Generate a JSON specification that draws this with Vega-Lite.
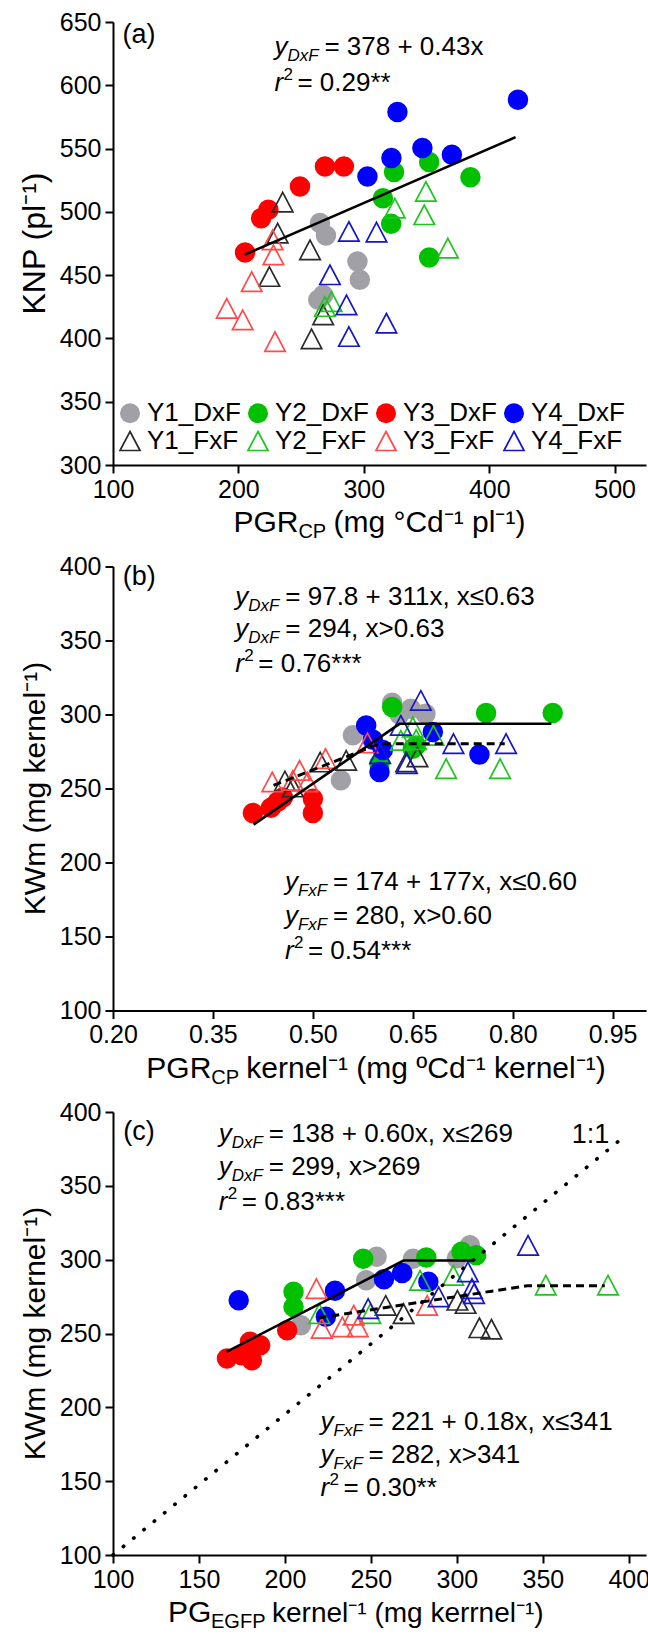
{
  "$schema": "https://vega.github.io/schema/vega-lite/v6.json",
  "padding": {"left": 18, "top": 10, "right": 2, "bottom": 5},
  "datasets": {
    "pa": [
      {"grp":"Y1_DxF","x":265,"y":491.1},{"grp":"Y1_DxF","x":269.8,"y":481.3},{"grp":"Y1_DxF","x":294.9,"y":460.8},{"grp":"Y1_DxF","x":296.8,"y":446.3},{"grp":"Y1_DxF","x":267.6,"y":434.4},{"grp":"Y1_DxF","x":263.7,"y":430.5},
      {"grp":"Y2_DxF","x":324.1,"y":531.4},{"grp":"Y2_DxF","x":315.2,"y":510.8},{"grp":"Y2_DxF","x":321.8,"y":490.6},{"grp":"Y2_DxF","x":352.1,"y":539.3},{"grp":"Y2_DxF","x":352.1,"y":463.9},{"grp":"Y2_DxF","x":385,"y":527.4},
      {"grp":"Y3_DxF","x":205.3,"y":467.9},{"grp":"Y3_DxF","x":218.1,"y":495},{"grp":"Y3_DxF","x":223.9,"y":501.7},{"grp":"Y3_DxF","x":249.1,"y":520.1},{"grp":"Y3_DxF","x":269,"y":535.9},{"grp":"Y3_DxF","x":284.1,"y":535.9},
      {"grp":"Y4_DxF","x":302.9,"y":528},{"grp":"Y4_DxF","x":322,"y":542.5},{"grp":"Y4_DxF","x":326.8,"y":578.8},{"grp":"Y4_DxF","x":346.7,"y":550.4},{"grp":"Y4_DxF","x":370.2,"y":545.1},{"grp":"Y4_DxF","x":422.9,"y":588.6},
      {"grp":"Y1_FxF","x":235.3,"y":507.7},{"grp":"Y1_FxF","x":231.3,"y":483.2},{"grp":"Y1_FxF","x":257.1,"y":470},{"grp":"Y1_FxF","x":224.7,"y":448.9},{"grp":"Y1_FxF","x":267.6,"y":418.6},{"grp":"Y1_FxF","x":258.3,"y":399.6},
      {"grp":"Y2_FxF","x":324.7,"y":502.9},{"grp":"Y2_FxF","x":269,"y":425.2},{"grp":"Y2_FxF","x":274.3,"y":429.1},{"grp":"Y2_FxF","x":349.5,"y":516.1},{"grp":"Y2_FxF","x":348.2,"y":497.7},{"grp":"Y2_FxF","x":367,"y":471.3},
      {"grp":"Y3_FxF","x":227.3,"y":477.9},{"grp":"Y3_FxF","x":227.9,"y":466},{"grp":"Y3_FxF","x":210.6,"y":444.9},{"grp":"Y3_FxF","x":190.7,"y":423.8},{"grp":"Y3_FxF","x":203.4,"y":414.7},{"grp":"Y3_FxF","x":229.2,"y":397.5},
      {"grp":"Y4_FxF","x":288.1,"y":484.5},{"grp":"Y4_FxF","x":310.1,"y":484},{"grp":"Y4_FxF","x":273,"y":450.3},{"grp":"Y4_FxF","x":286.2,"y":426.5},{"grp":"Y4_FxF","x":288.1,"y":401.5},{"grp":"Y4_FxF","x":318,"y":412}
    ],
    "pb": [
      {"grp":"Y1_DxF","x":0.542,"y":255.5},{"grp":"Y1_DxF","x":0.56,"y":285.9},{"grp":"Y1_DxF","x":0.619,"y":308},{"grp":"Y1_DxF","x":0.647,"y":303.9},{"grp":"Y1_DxF","x":0.669,"y":300.5},{"grp":"Y1_DxF","x":0.63,"y":300},
      {"grp":"Y2_DxF","x":0.619,"y":305.1},{"grp":"Y2_DxF","x":0.76,"y":301},{"grp":"Y2_DxF","x":0.86,"y":301},{"grp":"Y2_DxF","x":0.6,"y":266.8},{"grp":"Y2_DxF","x":0.65,"y":276.9},{"grp":"Y2_DxF","x":0.655,"y":279},
      {"grp":"Y3_DxF","x":0.41,"y":233.5},{"grp":"Y3_DxF","x":0.437,"y":237},{"grp":"Y3_DxF","x":0.447,"y":241},{"grp":"Y3_DxF","x":0.455,"y":244},{"grp":"Y3_DxF","x":0.5,"y":243.1},{"grp":"Y3_DxF","x":0.5,"y":233.5},
      {"grp":"Y4_DxF","x":0.58,"y":292.6},{"grp":"Y4_DxF","x":0.59,"y":283},{"grp":"Y4_DxF","x":0.6,"y":261.2},{"grp":"Y4_DxF","x":0.605,"y":276},{"grp":"Y4_DxF","x":0.68,"y":288.2},{"grp":"Y4_DxF","x":0.75,"y":272.9},
      {"grp":"Y1_FxF","x":0.55,"y":269},{"grp":"Y1_FxF","x":0.511,"y":267.9},{"grp":"Y1_FxF","x":0.458,"y":255.1},{"grp":"Y1_FxF","x":0.657,"y":271.3},{"grp":"Y1_FxF","x":0.47,"y":251},{"grp":"Y1_FxF","x":0.64,"y":268},
      {"grp":"Y2_FxF","x":0.65,"y":291.5},{"grp":"Y2_FxF","x":0.632,"y":282.5},{"grp":"Y2_FxF","x":0.681,"y":285.9},{"grp":"Y2_FxF","x":0.7,"y":263.4},{"grp":"Y2_FxF","x":0.781,"y":263.4},{"grp":"Y2_FxF","x":0.655,"y":283},
      {"grp":"Y3_FxF","x":0.439,"y":254.4},{"grp":"Y3_FxF","x":0.48,"y":262.3},{"grp":"Y3_FxF","x":0.492,"y":254.4},{"grp":"Y3_FxF","x":0.519,"y":270.2},{"grp":"Y3_FxF","x":0.582,"y":280.8},{"grp":"Y3_FxF","x":0.47,"y":255.5},
      {"grp":"Y4_FxF","x":0.662,"y":309.5},{"grp":"Y4_FxF","x":0.632,"y":292.6},{"grp":"Y4_FxF","x":0.601,"y":273.5},{"grp":"Y4_FxF","x":0.641,"y":266.8},{"grp":"Y4_FxF","x":0.711,"y":280.3},{"grp":"Y4_FxF","x":0.79,"y":280.3}
    ],
    "pc": [
      {"grp":"Y1_DxF","x":253.3,"y":301.9},{"grp":"Y1_DxF","x":247.2,"y":286},{"grp":"Y1_DxF","x":274.5,"y":300.7},{"grp":"Y1_DxF","x":307.6,"y":309.7},{"grp":"Y1_DxF","x":209.3,"y":255.6},{"grp":"Y1_DxF","x":300,"y":301},
      {"grp":"Y2_DxF","x":205,"y":278.2},{"grp":"Y2_DxF","x":205,"y":268},{"grp":"Y2_DxF","x":245.5,"y":300.7},{"grp":"Y2_DxF","x":282.2,"y":301.4},{"grp":"Y2_DxF","x":302.7,"y":305.3},{"grp":"Y2_DxF","x":311.2,"y":303},
      {"grp":"Y3_DxF","x":166.3,"y":233.1},{"grp":"Y3_DxF","x":174.8,"y":235.3},{"grp":"Y3_DxF","x":180.8,"y":231.9},{"grp":"Y3_DxF","x":185.6,"y":242.1},{"grp":"Y3_DxF","x":179.6,"y":244.4},{"grp":"Y3_DxF","x":201.3,"y":252.2},
      {"grp":"Y4_DxF","x":173.1,"y":272.5},{"grp":"Y4_DxF","x":229.1,"y":278.9},{"grp":"Y4_DxF","x":223.8,"y":261.3},{"grp":"Y4_DxF","x":257.6,"y":286.7},{"grp":"Y4_DxF","x":268.2,"y":291},{"grp":"Y4_DxF","x":283.4,"y":285},
      {"grp":"Y1_FxF","x":258.6,"y":269},{"grp":"Y1_FxF","x":269,"y":263.5},{"grp":"Y1_FxF","x":300.3,"y":272.5},{"grp":"Y1_FxF","x":305.1,"y":270.3},{"grp":"Y1_FxF","x":313.1,"y":253.9},{"grp":"Y1_FxF","x":320.1,"y":252.9},
      {"grp":"Y2_FxF","x":351.7,"y":282.7},{"grp":"Y2_FxF","x":387.9,"y":282.7},{"grp":"Y2_FxF","x":278.6,"y":286},{"grp":"Y2_FxF","x":297.9,"y":289.4},{"grp":"Y2_FxF","x":220,"y":263.5},{"grp":"Y2_FxF","x":249.7,"y":263.5},
      {"grp":"Y3_FxF","x":218.3,"y":280.4},{"grp":"Y3_FxF","x":221.4,"y":253.4},{"grp":"Y3_FxF","x":233.4,"y":254.5},{"grp":"Y3_FxF","x":242.4,"y":254.5},{"grp":"Y3_FxF","x":240,"y":262.4},{"grp":"Y3_FxF","x":282.7,"y":269},
      {"grp":"Y4_FxF","x":341.4,"y":309.7},{"grp":"Y4_FxF","x":248.4,"y":266.9},{"grp":"Y4_FxF","x":289.4,"y":274.8},{"grp":"Y4_FxF","x":306.4,"y":291.7},{"grp":"Y4_FxF","x":308.8,"y":280.4},{"grp":"Y4_FxF","x":310,"y":277}
    ],
    "la": [{"fit":"DxF","x":205,"y":466.2},{"fit":"DxF","x":421,"y":559}],
    "lb": [
      {"fit":"DxF","x":0.411,"y":225.6},{"fit":"DxF","x":0.63,"y":293.7},{"fit":"DxF","x":0.858,"y":293.7},
      {"fit":"FxF","x":0.441,"y":252.1},{"fit":"FxF","x":0.6,"y":280.2},{"fit":"FxF","x":0.788,"y":280.2}
    ],
    "lc": [
      {"fit":"DxF","x":166,"y":237.6},{"fit":"DxF","x":269,"y":299.4},{"fit":"DxF","x":310,"y":299.4},
      {"fit":"FxF","x":219.5,"y":260.5},{"fit":"FxF","x":341,"y":282.4},{"fit":"FxF","x":386,"y":282.4},
      {"fit":"1:1","x":100,"y":100},{"fit":"1:1","x":398,"y":384}
    ],
    "ea": [
      {"lead":"y","sub":"DxF","rest":" = 378 + 0.43x","x":228.7,"y":624.2},
      {"lead":"r","sup":"2","rest":" = 0.29**","x":228.7,"y":595.8}
    ],
    "eb": [
      {"lead":"y","sub":"DxF","rest":" = 97.8 + 311x, x≤0.63","x":0.3836,"y":373.7},
      {"lead":"y","sub":"DxF","rest":" = 294, x>0.63","x":0.3836,"y":352.3},
      {"lead":"r","sup":"2","rest":" = 0.76***","x":0.3836,"y":328.7},
      {"lead":"y","sub":"FxF","rest":" = 174 + 177x, x≤0.60","x":0.458,"y":181.2},
      {"lead":"y","sub":"FxF","rest":" = 280, x>0.60","x":0.458,"y":158.7},
      {"lead":"r","sup":"2","rest":" = 0.54***","x":0.458,"y":135}
    ],
    "ec": [
      {"lead":"y","sub":"DxF","rest":" = 138 + 0.60x, x≤269","x":161.5,"y":379.7},
      {"lead":"y","sub":"DxF","rest":" = 299, x>269","x":161.5,"y":357.1},
      {"lead":"r","sup":"2","rest":" = 0.83***","x":161.5,"y":333.4},
      {"lead":"y","sub":"FxF","rest":" = 221 + 0.18x, x≤341","x":220.7,"y":184.9},
      {"lead":"y","sub":"FxF","rest":" = 282, x>341","x":220.7,"y":162.6},
      {"lead":"r","sup":"2","rest":" = 0.30**","x":220.7,"y":140.2}
    ],
    "ga": [{"t":"(a)","x":107.5,"y":633.4}],
    "gb": [{"t":"(b)","x":0.2146,"y":387.2}],
    "gc": [{"t":"(c)","x":106,"y":380.8},{"t":"1:1","x":366.8,"y":379.2}],
    "ya": [{"t":"KNP (pl⁻¹)","x":100,"y":475}],
    "yb": [{"t":"KWm (mg kernel⁻¹)","x":0.2,"y":250}],
    "yc": [{"t":"KWm (mg kernel⁻¹)","x":100,"y":250}],
    "xa": [{"main":"PGR","sub":"CP","rest":" (mg °Cd⁻¹ pl⁻¹)","x":196,"y":300}],
    "xb": [{"main":"PGR","sub":"CP","rest":" kernel⁻¹ (mg ºCd⁻¹ kernel⁻¹)","x":0.25,"y":100}],
    "xc": [{"main":"PG","sub":"EGFP","rest":" kernel⁻¹ (mg kerrnel⁻¹)","x":132,"y":100}]
  },
  "vconcat": [
    {
      "width": 533,
      "height": 443,
      "layer": [
        {
          "data": {"name": "pa"},
          "mark": {"type": "point", "opacity": 1, "strokeWidth": 1.7},
          "encoding": {
            "x": {"field": "x", "type": "quantitative", "scale": {"domain": [100, 525], "nice": false, "zero": false}, "axis": {"values": [100, 200, 300, 400, 500], "labelFlush": false, "labelOverlap": false}},
            "y": {"field": "y", "type": "quantitative", "scale": {"domain": [300, 650], "nice": false, "zero": false}, "axis": {"values": [300, 350, 400, 450, 500, 550, 600, 650], "labelOverlap": false}},
            "fill": {"field": "grp", "type": "nominal", "scale": {"domain": ["Y1_DxF","Y2_DxF","Y3_DxF","Y4_DxF","Y1_FxF","Y2_FxF","Y3_FxF","Y4_FxF"], "range": ["#a0a0a6","#00c000","#ff0000","#0000ff","transparent","transparent","transparent","transparent"]},
              "legend": {"title": null, "orient": "none", "direction": "horizontal", "legendX": 4, "legendY": 378, "columns": 4, "columnPadding": 3, "rowPadding": 1, "labelFontSize": 26, "labelColor": "#000", "symbolSize": 400, "symbolStrokeWidth": 1.7, "labelOffset": 4}},
            "stroke": {"field": "grp", "type": "nominal", "scale": {"domain": ["Y1_DxF","Y2_DxF","Y3_DxF","Y4_DxF","Y1_FxF","Y2_FxF","Y3_FxF","Y4_FxF"], "range": ["transparent","transparent","transparent","transparent","#2b2b2b","#1fc41f","#ff4a4a","#1616c8"]},
              "legend": {"title": null, "orient": "none", "direction": "horizontal", "legendX": 4, "legendY": 378, "columns": 4, "columnPadding": 3, "rowPadding": 1, "labelFontSize": 26, "labelColor": "#000", "symbolSize": 400, "symbolStrokeWidth": 1.7, "labelOffset": 4}},
            "shape": {"field": "grp", "type": "nominal", "scale": {"domain": ["Y1_DxF","Y2_DxF","Y3_DxF","Y4_DxF","Y1_FxF","Y2_FxF","Y3_FxF","Y4_FxF"], "range": ["circle","circle","circle","circle","M0,-0.95L1,0.95L-1,0.95Z","M0,-0.95L1,0.95L-1,0.95Z","M0,-0.95L1,0.95L-1,0.95Z","M0,-0.95L1,0.95L-1,0.95Z"]},
              "legend": {"title": null, "orient": "none", "direction": "horizontal", "legendX": 4, "legendY": 378, "columns": 4, "columnPadding": 3, "rowPadding": 1, "labelFontSize": 26, "labelColor": "#000", "symbolSize": 400, "symbolStrokeWidth": 1.7, "labelOffset": 4}},
            "size": {"value": 420}
          }
        },
        {
          "data": {"name": "la"},
          "mark": {"type": "line", "color": "#000", "strokeWidth": 2.6},
          "encoding": {"x": {"field": "x", "type": "quantitative"}, "y": {"field": "y", "type": "quantitative"}}
        },
        {
          "data": {"name": "ea"},
          "mark": {"type": "text", "align": "left", "baseline": "alphabetic", "fontSize": 26, "fontStyle": "italic"},
          "encoding": {"x": {"field": "x", "type": "quantitative"}, "y": {"field": "y", "type": "quantitative"}, "text": {"field": "lead"}}
        },
        {
          "data": {"name": "ea"},
          "transform": [{"filter": "datum.sub"}],
          "mark": {"type": "text", "align": "left", "baseline": "alphabetic", "fontSize": 17, "fontStyle": "italic", "dx": 13, "dy": 6},
          "encoding": {"x": {"field": "x", "type": "quantitative"}, "y": {"field": "y", "type": "quantitative"}, "text": {"field": "sub"}}
        },
        {
          "data": {"name": "ea"},
          "transform": [{"filter": "datum.sup"}],
          "mark": {"type": "text", "align": "left", "baseline": "alphabetic", "fontSize": 17, "dx": 9, "dy": -11},
          "encoding": {"x": {"field": "x", "type": "quantitative"}, "y": {"field": "y", "type": "quantitative"}, "text": {"field": "sup"}}
        },
        {
          "data": {"name": "ea"},
          "transform": [{"filter": "datum.sub == 'DxF'"}],
          "mark": {"type": "text", "align": "left", "baseline": "alphabetic", "fontSize": 26, "dx": 50},
          "encoding": {"x": {"field": "x", "type": "quantitative"}, "y": {"field": "y", "type": "quantitative"}, "text": {"field": "rest"}}
        },
        {
          "data": {"name": "ea"},
          "transform": [{"filter": "datum.sup"}],
          "mark": {"type": "text", "align": "left", "baseline": "alphabetic", "fontSize": 26, "dx": 23},
          "encoding": {"x": {"field": "x", "type": "quantitative"}, "y": {"field": "y", "type": "quantitative"}, "text": {"field": "rest"}}
        },
        {
          "data": {"name": "ga"},
          "mark": {"type": "text", "align": "left", "baseline": "alphabetic", "fontSize": 27},
          "encoding": {"x": {"field": "x", "type": "quantitative"}, "y": {"field": "y", "type": "quantitative"}, "text": {"field": "t"}}
        },
        {
          "data": {"name": "ya"},
          "mark": {"type": "text", "align": "center", "baseline": "alphabetic", "fontSize": 32, "angle": 270, "dy": -68},
          "encoding": {"x": {"field": "x", "type": "quantitative"}, "y": {"field": "y", "type": "quantitative"}, "text": {"field": "t"}}
        },
        {
          "data": {"name": "xa"},
          "mark": {"type": "text", "align": "left", "baseline": "alphabetic", "fontSize": 30, "dy": 67},
          "encoding": {"x": {"field": "x", "type": "quantitative"}, "y": {"field": "y", "type": "quantitative"}, "text": {"field": "main"}}
        },
        {
          "data": {"name": "xa"},
          "mark": {"type": "text", "align": "left", "baseline": "alphabetic", "fontSize": 20, "dy": 73, "dx": 65},
          "encoding": {"x": {"field": "x", "type": "quantitative"}, "y": {"field": "y", "type": "quantitative"}, "text": {"field": "sub"}}
        },
        {
          "data": {"name": "xa"},
          "mark": {"type": "text", "align": "left", "baseline": "alphabetic", "fontSize": 30, "dy": 67, "dx": 100},
          "encoding": {"x": {"field": "x", "type": "quantitative"}, "y": {"field": "y", "type": "quantitative"}, "text": {"field": "rest"}}
        }
      ]
    },
    {
      "width": 533,
      "height": 444,
      "layer": [
        {
          "data": {"name": "pb"},
          "mark": {"type": "point", "opacity": 1, "strokeWidth": 1.7},
          "encoding": {
            "x": {"field": "x", "type": "quantitative", "scale": {"domain": [0.2, 1.0], "nice": false, "zero": false}, "axis": {"values": [0.2, 0.35, 0.5, 0.65, 0.8, 0.95], "format": ".2f", "labelFlush": false, "labelOverlap": false}},
            "y": {"field": "y", "type": "quantitative", "scale": {"domain": [100, 400], "nice": false, "zero": false}, "axis": {"values": [100, 150, 200, 250, 300, 350, 400], "labelOverlap": false}},
            "fill": {"field": "grp", "type": "nominal", "scale": {"domain": ["Y1_DxF","Y2_DxF","Y3_DxF","Y4_DxF","Y1_FxF","Y2_FxF","Y3_FxF","Y4_FxF"], "range": ["#a0a0a6","#00c000","#ff0000","#0000ff","transparent","transparent","transparent","transparent"]}, "legend": null},
            "stroke": {"field": "grp", "type": "nominal", "scale": {"domain": ["Y1_DxF","Y2_DxF","Y3_DxF","Y4_DxF","Y1_FxF","Y2_FxF","Y3_FxF","Y4_FxF"], "range": ["transparent","transparent","transparent","transparent","#2b2b2b","#1fc41f","#ff4a4a","#1616c8"]}, "legend": null},
            "shape": {"field": "grp", "type": "nominal", "scale": {"domain": ["Y1_DxF","Y2_DxF","Y3_DxF","Y4_DxF","Y1_FxF","Y2_FxF","Y3_FxF","Y4_FxF"], "range": ["circle","circle","circle","circle","M0,-0.95L1,0.95L-1,0.95Z","M0,-0.95L1,0.95L-1,0.95Z","M0,-0.95L1,0.95L-1,0.95Z","M0,-0.95L1,0.95L-1,0.95Z"]}, "legend": null},
            "size": {"value": 420}
          }
        },
        {
          "data": {"name": "lb"},
          "transform": [{"filter": "datum.fit == 'DxF'"}],
          "mark": {"type": "line", "color": "#000", "strokeWidth": 2.6},
          "encoding": {"x": {"field": "x", "type": "quantitative"}, "y": {"field": "y", "type": "quantitative"}}
        },
        {
          "data": {"name": "lb"},
          "transform": [{"filter": "datum.fit == 'FxF'"}],
          "mark": {"type": "line", "color": "#000", "strokeWidth": 3, "strokeDash": [8, 5]},
          "encoding": {"x": {"field": "x", "type": "quantitative"}, "y": {"field": "y", "type": "quantitative"}}
        },
        {
          "data": {"name": "eb"},
          "mark": {"type": "text", "align": "left", "baseline": "alphabetic", "fontSize": 26, "fontStyle": "italic"},
          "encoding": {"x": {"field": "x", "type": "quantitative"}, "y": {"field": "y", "type": "quantitative"}, "text": {"field": "lead"}}
        },
        {
          "data": {"name": "eb"},
          "transform": [{"filter": "datum.sub"}],
          "mark": {"type": "text", "align": "left", "baseline": "alphabetic", "fontSize": 17, "fontStyle": "italic", "dx": 13, "dy": 6},
          "encoding": {"x": {"field": "x", "type": "quantitative"}, "y": {"field": "y", "type": "quantitative"}, "text": {"field": "sub"}}
        },
        {
          "data": {"name": "eb"},
          "transform": [{"filter": "datum.sup"}],
          "mark": {"type": "text", "align": "left", "baseline": "alphabetic", "fontSize": 17, "dx": 9, "dy": -11},
          "encoding": {"x": {"field": "x", "type": "quantitative"}, "y": {"field": "y", "type": "quantitative"}, "text": {"field": "sup"}}
        },
        {
          "data": {"name": "eb"},
          "transform": [{"filter": "datum.sub == 'DxF'"}],
          "mark": {"type": "text", "align": "left", "baseline": "alphabetic", "fontSize": 26, "dx": 50},
          "encoding": {"x": {"field": "x", "type": "quantitative"}, "y": {"field": "y", "type": "quantitative"}, "text": {"field": "rest"}}
        },
        {
          "data": {"name": "eb"},
          "transform": [{"filter": "datum.sub == 'FxF'"}],
          "mark": {"type": "text", "align": "left", "baseline": "alphabetic", "fontSize": 26, "dx": 48},
          "encoding": {"x": {"field": "x", "type": "quantitative"}, "y": {"field": "y", "type": "quantitative"}, "text": {"field": "rest"}}
        },
        {
          "data": {"name": "eb"},
          "transform": [{"filter": "datum.sup"}],
          "mark": {"type": "text", "align": "left", "baseline": "alphabetic", "fontSize": 26, "dx": 23},
          "encoding": {"x": {"field": "x", "type": "quantitative"}, "y": {"field": "y", "type": "quantitative"}, "text": {"field": "rest"}}
        },
        {
          "data": {"name": "gb"},
          "mark": {"type": "text", "align": "left", "baseline": "alphabetic", "fontSize": 27},
          "encoding": {"x": {"field": "x", "type": "quantitative"}, "y": {"field": "y", "type": "quantitative"}, "text": {"field": "t"}}
        },
        {
          "data": {"name": "yb"},
          "mark": {"type": "text", "align": "center", "baseline": "alphabetic", "fontSize": 30, "angle": 270, "dy": -68},
          "encoding": {"x": {"field": "x", "type": "quantitative"}, "y": {"field": "y", "type": "quantitative"}, "text": {"field": "t"}}
        },
        {
          "data": {"name": "xb"},
          "mark": {"type": "text", "align": "left", "baseline": "alphabetic", "fontSize": 30, "dy": 67},
          "encoding": {"x": {"field": "x", "type": "quantitative"}, "y": {"field": "y", "type": "quantitative"}, "text": {"field": "main"}}
        },
        {
          "data": {"name": "xb"},
          "mark": {"type": "text", "align": "left", "baseline": "alphabetic", "fontSize": 20, "dy": 73, "dx": 65},
          "encoding": {"x": {"field": "x", "type": "quantitative"}, "y": {"field": "y", "type": "quantitative"}, "text": {"field": "sub"}}
        },
        {
          "data": {"name": "xb"},
          "mark": {"type": "text", "align": "left", "baseline": "alphabetic", "fontSize": 30, "dy": 67, "dx": 100},
          "encoding": {"x": {"field": "x", "type": "quantitative"}, "y": {"field": "y", "type": "quantitative"}, "text": {"field": "rest"}}
        }
      ]
    },
    {
      "width": 533,
      "height": 443,
      "layer": [
        {
          "data": {"name": "pc"},
          "mark": {"type": "point", "opacity": 1, "strokeWidth": 1.7},
          "encoding": {
            "x": {"field": "x", "type": "quantitative", "scale": {"domain": [100, 410], "nice": false, "zero": false}, "axis": {"values": [100, 150, 200, 250, 300, 350, 400], "labelFlush": false, "labelOverlap": false}},
            "y": {"field": "y", "type": "quantitative", "scale": {"domain": [100, 400], "nice": false, "zero": false}, "axis": {"values": [100, 150, 200, 250, 300, 350, 400], "labelOverlap": false}},
            "fill": {"field": "grp", "type": "nominal", "scale": {"domain": ["Y1_DxF","Y2_DxF","Y3_DxF","Y4_DxF","Y1_FxF","Y2_FxF","Y3_FxF","Y4_FxF"], "range": ["#a0a0a6","#00c000","#ff0000","#0000ff","transparent","transparent","transparent","transparent"]}, "legend": null},
            "stroke": {"field": "grp", "type": "nominal", "scale": {"domain": ["Y1_DxF","Y2_DxF","Y3_DxF","Y4_DxF","Y1_FxF","Y2_FxF","Y3_FxF","Y4_FxF"], "range": ["transparent","transparent","transparent","transparent","#2b2b2b","#1fc41f","#ff4a4a","#1616c8"]}, "legend": null},
            "shape": {"field": "grp", "type": "nominal", "scale": {"domain": ["Y1_DxF","Y2_DxF","Y3_DxF","Y4_DxF","Y1_FxF","Y2_FxF","Y3_FxF","Y4_FxF"], "range": ["circle","circle","circle","circle","M0,-0.95L1,0.95L-1,0.95Z","M0,-0.95L1,0.95L-1,0.95Z","M0,-0.95L1,0.95L-1,0.95Z","M0,-0.95L1,0.95L-1,0.95Z"]}, "legend": null},
            "size": {"value": 420}
          }
        },
        {
          "data": {"name": "lc"},
          "transform": [{"filter": "datum.fit == 'DxF'"}],
          "mark": {"type": "line", "color": "#000", "strokeWidth": 2.6},
          "encoding": {"x": {"field": "x", "type": "quantitative"}, "y": {"field": "y", "type": "quantitative"}}
        },
        {
          "data": {"name": "lc"},
          "transform": [{"filter": "datum.fit == 'FxF'"}],
          "mark": {"type": "line", "color": "#000", "strokeWidth": 3, "strokeDash": [8, 5]},
          "encoding": {"x": {"field": "x", "type": "quantitative"}, "y": {"field": "y", "type": "quantitative"}}
        },
        {
          "data": {"name": "lc"},
          "transform": [{"filter": "datum.fit == '1:1'"}],
          "mark": {"type": "line", "color": "#000", "strokeWidth": 3.6, "strokeDash": [0.5, 12.8], "strokeCap": "round"},
          "encoding": {"x": {"field": "x", "type": "quantitative"}, "y": {"field": "y", "type": "quantitative"}}
        },
        {
          "data": {"name": "ec"},
          "mark": {"type": "text", "align": "left", "baseline": "alphabetic", "fontSize": 26, "fontStyle": "italic"},
          "encoding": {"x": {"field": "x", "type": "quantitative"}, "y": {"field": "y", "type": "quantitative"}, "text": {"field": "lead"}}
        },
        {
          "data": {"name": "ec"},
          "transform": [{"filter": "datum.sub"}],
          "mark": {"type": "text", "align": "left", "baseline": "alphabetic", "fontSize": 17, "fontStyle": "italic", "dx": 13, "dy": 6},
          "encoding": {"x": {"field": "x", "type": "quantitative"}, "y": {"field": "y", "type": "quantitative"}, "text": {"field": "sub"}}
        },
        {
          "data": {"name": "ec"},
          "transform": [{"filter": "datum.sup"}],
          "mark": {"type": "text", "align": "left", "baseline": "alphabetic", "fontSize": 17, "dx": 9, "dy": -11},
          "encoding": {"x": {"field": "x", "type": "quantitative"}, "y": {"field": "y", "type": "quantitative"}, "text": {"field": "sup"}}
        },
        {
          "data": {"name": "ec"},
          "transform": [{"filter": "datum.sub == 'DxF'"}],
          "mark": {"type": "text", "align": "left", "baseline": "alphabetic", "fontSize": 26, "dx": 50},
          "encoding": {"x": {"field": "x", "type": "quantitative"}, "y": {"field": "y", "type": "quantitative"}, "text": {"field": "rest"}}
        },
        {
          "data": {"name": "ec"},
          "transform": [{"filter": "datum.sub == 'FxF'"}],
          "mark": {"type": "text", "align": "left", "baseline": "alphabetic", "fontSize": 26, "dx": 48},
          "encoding": {"x": {"field": "x", "type": "quantitative"}, "y": {"field": "y", "type": "quantitative"}, "text": {"field": "rest"}}
        },
        {
          "data": {"name": "ec"},
          "transform": [{"filter": "datum.sup"}],
          "mark": {"type": "text", "align": "left", "baseline": "alphabetic", "fontSize": 26, "dx": 23},
          "encoding": {"x": {"field": "x", "type": "quantitative"}, "y": {"field": "y", "type": "quantitative"}, "text": {"field": "rest"}}
        },
        {
          "data": {"name": "gc"},
          "mark": {"type": "text", "align": "left", "baseline": "alphabetic", "fontSize": 27},
          "encoding": {"x": {"field": "x", "type": "quantitative"}, "y": {"field": "y", "type": "quantitative"}, "text": {"field": "t"}}
        },
        {
          "data": {"name": "yc"},
          "mark": {"type": "text", "align": "center", "baseline": "alphabetic", "fontSize": 30, "angle": 270, "dy": -68},
          "encoding": {"x": {"field": "x", "type": "quantitative"}, "y": {"field": "y", "type": "quantitative"}, "text": {"field": "t"}}
        },
        {
          "data": {"name": "xc"},
          "mark": {"type": "text", "align": "left", "baseline": "alphabetic", "fontSize": 30, "dy": 67},
          "encoding": {"x": {"field": "x", "type": "quantitative"}, "y": {"field": "y", "type": "quantitative"}, "text": {"field": "main"}}
        },
        {
          "data": {"name": "xc"},
          "mark": {"type": "text", "align": "left", "baseline": "alphabetic", "fontSize": 20, "dy": 73, "dx": 43},
          "encoding": {"x": {"field": "x", "type": "quantitative"}, "y": {"field": "y", "type": "quantitative"}, "text": {"field": "sub"}}
        },
        {
          "data": {"name": "xc"},
          "mark": {"type": "text", "align": "left", "baseline": "alphabetic", "fontSize": 28, "dy": 67, "dx": 104},
          "encoding": {"x": {"field": "x", "type": "quantitative"}, "y": {"field": "y", "type": "quantitative"}, "text": {"field": "rest"}}
        }
      ]
    }
  ],
  "spacing": 101.5,
  "bounds": "flush",
  "config": {
    "view": {"stroke": null},
    "font": "Liberation Sans",
    "axis": {"domainColor": "#000", "domainWidth": 2, "tickColor": "#000", "tickWidth": 2, "tickSize": 8, "labelColor": "#000", "labelFontSize": 25, "labelFont": "Liberation Sans", "grid": false, "labelPadding": 4, "title": null},
    "legend": {"labelFont": "Liberation Sans"},
    "text": {"font": "Liberation Sans", "color": "#000"}
  }
}
